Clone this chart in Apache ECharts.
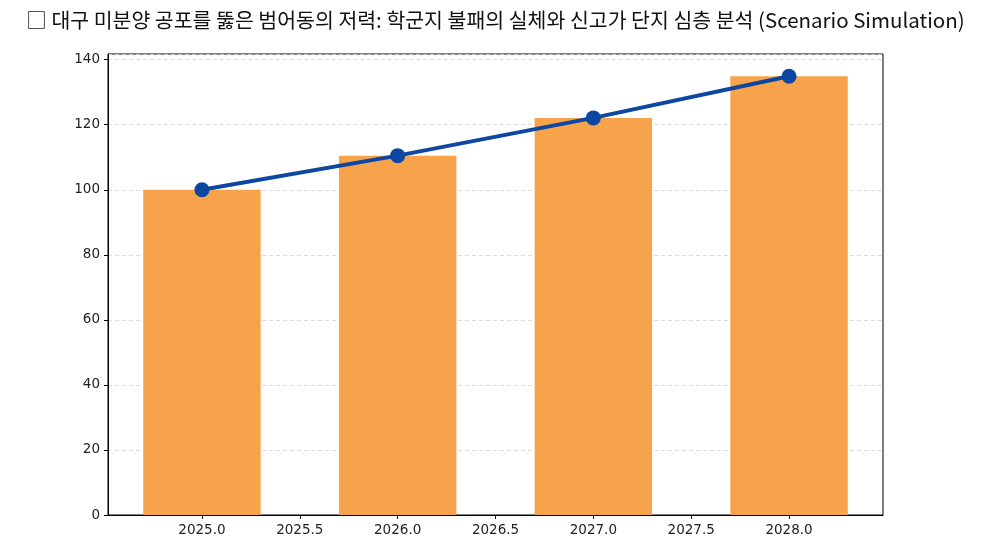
<!DOCTYPE html>
<html><head><meta charset="utf-8">
<script src="https://cdn.jsdelivr.net/npm/echarts@6/dist/echarts.min.js"></script>
<style>html,body{margin:0;padding:0;background:#fff}#c{width:991px;height:549px}</style>
</head><body><div id="c"></div>
<script>
const years = [2025, 2026, 2027, 2028];
const barValues = [100, 110.5, 122.1, 134.9];
const lineValues = [100, 110.5, 122.1, 134.9];
const xTicks = [2025.0, 2025.5, 2026.0, 2026.5, 2027.0, 2027.5, 2028.0];
const yTicks = [0, 20, 40, 60, 80, 100, 120, 140];
const titleText = '□ 대구 미분양 공포를 뚫은 범어동의 저력: 학군지 불패의 실체와 신고가 단지 심층 분석 (Scenario Simulation)';

const xMin = 2024.52, xMax = 2028.48;
const gridLeft = 108, gridRight = 108, W = 991;
const gridW = W - gridLeft - gridRight;
const barW = gridW * 0.6 / (xMax - xMin);
const font = '"Noto Sans CJK KR", "Noto Sans", sans-serif';
const tickFont = '"DejaVu Sans", sans-serif';

const chart = echarts.init(document.getElementById('c'));
chart.setOption({
  animation: false,
  title: {
    text: titleText, left: 'center', top: 5,
    textStyle: {fontFamily: font, fontSize: 20.5, fontWeight: 'normal', color: '#111'}
  },
  grid: {left: gridLeft, right: gridRight, top: 54, bottom: 34, show: true, borderColor: '#000', borderWidth: 1, backgroundColor: 'transparent'},
  xAxis: {
    type: 'value', min: xMin, max: xMax,
    axisLine: {show: true, lineStyle: {color: '#000'}},
    axisTick: {show: true, customValues: xTicks, length: 4, lineStyle: {color: '#000'}},
    axisLabel: {customValues: xTicks, formatter: v => v.toFixed(1), fontFamily: tickFont, fontSize: 13.5, color: '#222', margin: 8},
    splitLine: {show: false}
  },
  yAxis: {
    type: 'value', min: 0, max: 141.75, interval: 20,
    axisLine: {show: true, lineStyle: {color: '#000'}},
    axisTick: {show: true, length: 4, lineStyle: {color: '#000'}},
    axisLabel: {showMaxLabel: false, fontFamily: tickFont, fontSize: 13.5, color: '#222', margin: 8},
    splitLine: {show: true, lineStyle: {color: '#d3d3d3', type: [4, 3], width: 0.8}}
  },
  series: [
    {
      type: 'bar', data: years.map((y, i) => [y, barValues[i]]),
      barWidth: barW, itemStyle: {color: '#F7A34C'}, z: 2
    },
    {
      type: 'line', data: years.map((y, i) => [y, lineValues[i]]),
      lineStyle: {color: '#0D47A1', width: 4}, itemStyle: {color: '#0D47A1'},
      symbol: 'circle', symbolSize: 15, z: 3
    }
  ]
});
</script></body></html>
